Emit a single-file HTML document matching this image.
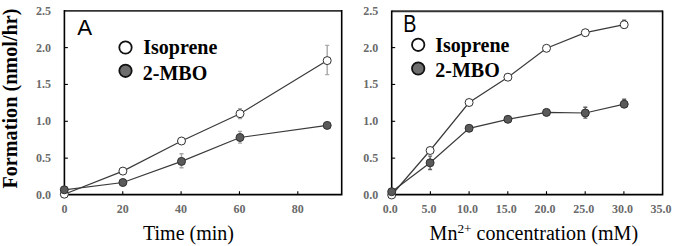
<!DOCTYPE html>
<html><head><meta charset="utf-8"><style>
html,body{margin:0;padding:0;background:#fff;}
body{width:685px;height:246px;overflow:hidden;}
svg{display:block;}
.tk{font-family:"Liberation Serif",serif;font-weight:bold;font-size:12px;fill:#6a6a6a;}
.let{font-family:"Liberation Sans",sans-serif;font-size:23px;fill:#000;}
.leg{font-family:"Liberation Serif",serif;font-weight:bold;font-size:20px;fill:#000;}
.xt{font-family:"Liberation Serif",serif;font-size:20px;fill:#000;}
.yt{font-family:"Liberation Serif",serif;font-weight:bold;font-size:20.2px;fill:#000;}
</style></head><body>
<svg width="685" height="246" viewBox="0 0 685 246">
<path d="M64.40,10.90H341.70" stroke="#333" stroke-width="1.9"/>
<path d="M64.40,10.00V195.40M63.60,194.60H342.50M341.70,10.00V194.60" stroke="#000" stroke-width="1.6" fill="none"/>
<text x="51.00" y="199.00" class="tk" text-anchor="end">0.0</text>
<line x1="64.40" y1="158.15" x2="67.90" y2="158.15" stroke="#000" stroke-width="1.1"/>
<text x="51.00" y="162.15" class="tk" text-anchor="end">0.5</text>
<line x1="64.40" y1="121.30" x2="67.90" y2="121.30" stroke="#000" stroke-width="1.1"/>
<text x="51.00" y="125.30" class="tk" text-anchor="end">1.0</text>
<line x1="64.40" y1="84.45" x2="67.90" y2="84.45" stroke="#000" stroke-width="1.1"/>
<text x="51.00" y="88.45" class="tk" text-anchor="end">1.5</text>
<line x1="64.40" y1="47.60" x2="67.90" y2="47.60" stroke="#000" stroke-width="1.1"/>
<text x="51.00" y="51.60" class="tk" text-anchor="end">2.0</text>
<text x="51.00" y="14.75" class="tk" text-anchor="end">2.5</text>
<text x="64.40" y="213.4" class="tk" text-anchor="middle">0</text>
<line x1="122.75" y1="194.60" x2="122.75" y2="191.20" stroke="#000" stroke-width="1.1"/>
<text x="122.75" y="213.4" class="tk" text-anchor="middle">20</text>
<line x1="181.10" y1="194.60" x2="181.10" y2="191.20" stroke="#000" stroke-width="1.1"/>
<text x="181.10" y="213.4" class="tk" text-anchor="middle">40</text>
<line x1="239.45" y1="194.60" x2="239.45" y2="191.20" stroke="#000" stroke-width="1.1"/>
<text x="239.45" y="213.4" class="tk" text-anchor="middle">60</text>
<line x1="297.80" y1="194.60" x2="297.80" y2="191.20" stroke="#000" stroke-width="1.1"/>
<text x="297.80" y="213.4" class="tk" text-anchor="middle">80</text>
<path d="M240.00,108.80V118.60M238.00,108.80H242.00M238.00,118.60H242.00" stroke="#a8a8a8" stroke-width="1.4" fill="none"/>
<path d="M327.20,45.40V74.60M325.20,45.40H329.20M325.20,74.60H329.20" stroke="#a8a8a8" stroke-width="1.4" fill="none"/>
<path d="M181.50,153.80V167.80M179.50,153.80H183.50M179.50,167.80H183.50" stroke="#a8a8a8" stroke-width="1.4" fill="none"/>
<path d="M240.00,131.40V143.10M238.00,131.40H242.00M238.00,143.10H242.00" stroke="#a8a8a8" stroke-width="1.4" fill="none"/>
<polyline points="64.30,194.20 122.90,171.10 181.50,141.00 240.00,113.70 327.20,60.60" fill="none" stroke="#3a3a3a" stroke-width="1.2"/>
<polyline points="64.30,189.80 122.90,182.50 181.50,161.40 240.00,137.50 327.20,125.40" fill="none" stroke="#3a3a3a" stroke-width="1.2"/>
<circle cx="64.30" cy="194.20" r="4.0" fill="#fff" stroke="#303030" stroke-width="1"/>
<circle cx="122.90" cy="171.10" r="4.0" fill="#fff" stroke="#303030" stroke-width="1"/>
<circle cx="181.50" cy="141.00" r="4.0" fill="#fff" stroke="#303030" stroke-width="1"/>
<circle cx="240.00" cy="113.70" r="4.0" fill="#fff" stroke="#303030" stroke-width="1"/>
<circle cx="327.20" cy="60.60" r="4.0" fill="#fff" stroke="#303030" stroke-width="1"/>
<circle cx="64.30" cy="189.80" r="4.0" fill="#5a5a5a" stroke="#303030" stroke-width="1"/>
<circle cx="122.90" cy="182.50" r="4.0" fill="#5a5a5a" stroke="#303030" stroke-width="1"/>
<circle cx="181.50" cy="161.40" r="4.0" fill="#5a5a5a" stroke="#303030" stroke-width="1"/>
<circle cx="240.00" cy="137.50" r="4.0" fill="#5a5a5a" stroke="#303030" stroke-width="1"/>
<circle cx="327.20" cy="125.40" r="4.0" fill="#5a5a5a" stroke="#303030" stroke-width="1"/>
<path d="M391.70,11.30H662.60" stroke="#333" stroke-width="1.9"/>
<path d="M391.70,10.40V195.40M390.90,194.60H663.40M662.60,10.40V194.60" stroke="#000" stroke-width="1.6" fill="none"/>
<text x="378.30" y="199.00" class="tk" text-anchor="end">0.0</text>
<line x1="391.70" y1="158.15" x2="395.20" y2="158.15" stroke="#000" stroke-width="1.1"/>
<text x="378.30" y="162.15" class="tk" text-anchor="end">0.5</text>
<line x1="391.70" y1="121.30" x2="395.20" y2="121.30" stroke="#000" stroke-width="1.1"/>
<text x="378.30" y="125.30" class="tk" text-anchor="end">1.0</text>
<line x1="391.70" y1="84.45" x2="395.20" y2="84.45" stroke="#000" stroke-width="1.1"/>
<text x="378.30" y="88.45" class="tk" text-anchor="end">1.5</text>
<line x1="391.70" y1="47.60" x2="395.20" y2="47.60" stroke="#000" stroke-width="1.1"/>
<text x="378.30" y="51.60" class="tk" text-anchor="end">2.0</text>
<text x="378.30" y="14.75" class="tk" text-anchor="end">2.5</text>
<text x="390.20" y="213.4" class="tk" text-anchor="middle">0.0</text>
<line x1="430.40" y1="194.60" x2="430.40" y2="191.20" stroke="#000" stroke-width="1.1"/>
<text x="428.90" y="213.4" class="tk" text-anchor="middle">5.0</text>
<line x1="469.10" y1="194.60" x2="469.10" y2="191.20" stroke="#000" stroke-width="1.1"/>
<text x="467.60" y="213.4" class="tk" text-anchor="middle">10.0</text>
<line x1="507.80" y1="194.60" x2="507.80" y2="191.20" stroke="#000" stroke-width="1.1"/>
<text x="506.30" y="213.4" class="tk" text-anchor="middle">15.0</text>
<line x1="546.50" y1="194.60" x2="546.50" y2="191.20" stroke="#000" stroke-width="1.1"/>
<text x="545.00" y="213.4" class="tk" text-anchor="middle">20.0</text>
<line x1="585.20" y1="194.60" x2="585.20" y2="191.20" stroke="#000" stroke-width="1.1"/>
<text x="583.70" y="213.4" class="tk" text-anchor="middle">25.0</text>
<line x1="623.90" y1="194.60" x2="623.90" y2="191.20" stroke="#000" stroke-width="1.1"/>
<text x="622.40" y="213.4" class="tk" text-anchor="middle">30.0</text>
<text x="661.10" y="213.4" class="tk" text-anchor="middle">35.0</text>
<path d="M624.20,20.20V27.70M622.20,20.20H626.20M622.20,27.70H626.20" stroke="#606060" stroke-width="1.4" fill="none"/>
<path d="M430.10,156.10V169.50M428.10,156.10H432.10M428.10,169.50H432.10" stroke="#606060" stroke-width="1.4" fill="none"/>
<path d="M585.30,107.30V118.10M583.30,107.30H587.30M583.30,118.10H587.30" stroke="#606060" stroke-width="1.4" fill="none"/>
<path d="M624.20,99.20V107.20M622.20,99.20H626.20M622.20,107.20H626.20" stroke="#606060" stroke-width="1.4" fill="none"/>
<polyline points="391.70,195.00 430.10,150.50 469.10,102.50 507.90,77.20 546.50,48.30 585.30,32.70 624.20,24.70" fill="none" stroke="#3a3a3a" stroke-width="1.2"/>
<polyline points="391.70,191.70 430.10,162.80 469.10,128.30 507.90,119.30 546.50,112.40 585.30,113.00 624.20,104.20" fill="none" stroke="#3a3a3a" stroke-width="1.2"/>
<circle cx="391.70" cy="195.00" r="4.0" fill="#fff" stroke="#303030" stroke-width="1"/>
<circle cx="430.10" cy="150.50" r="4.0" fill="#fff" stroke="#303030" stroke-width="1"/>
<circle cx="469.10" cy="102.50" r="4.0" fill="#fff" stroke="#303030" stroke-width="1"/>
<circle cx="507.90" cy="77.20" r="4.0" fill="#fff" stroke="#303030" stroke-width="1"/>
<circle cx="546.50" cy="48.30" r="4.0" fill="#fff" stroke="#303030" stroke-width="1"/>
<circle cx="585.30" cy="32.70" r="4.0" fill="#fff" stroke="#303030" stroke-width="1"/>
<circle cx="624.20" cy="24.70" r="4.0" fill="#fff" stroke="#303030" stroke-width="1"/>
<circle cx="391.70" cy="191.70" r="4.0" fill="#5a5a5a" stroke="#303030" stroke-width="1"/>
<circle cx="430.10" cy="162.80" r="4.0" fill="#5a5a5a" stroke="#303030" stroke-width="1"/>
<circle cx="469.10" cy="128.30" r="4.0" fill="#5a5a5a" stroke="#303030" stroke-width="1"/>
<circle cx="507.90" cy="119.30" r="4.0" fill="#5a5a5a" stroke="#303030" stroke-width="1"/>
<circle cx="546.50" cy="112.40" r="4.0" fill="#5a5a5a" stroke="#303030" stroke-width="1"/>
<circle cx="585.30" cy="113.00" r="4.0" fill="#5a5a5a" stroke="#303030" stroke-width="1"/>
<circle cx="624.20" cy="104.20" r="4.0" fill="#5a5a5a" stroke="#303030" stroke-width="1"/>
<text transform="translate(77.3,35.1) scale(0.97,1)" class="let">A</text>
<text transform="translate(403.2,31.7) scale(0.86,1)" class="let">B</text>
<circle cx="125.50" cy="47.50" r="6.2" fill="#fff" stroke="#111" stroke-width="1.8"/>
<circle cx="125.50" cy="70.80" r="6.2" fill="#6e6e6e" stroke="#111" stroke-width="1.8"/>
<text x="143.20" y="54.00" class="leg">Isoprene</text>
<text x="142.80" y="79.50" class="leg">2-MBO</text>
<circle cx="418.20" cy="44.80" r="6.2" fill="#fff" stroke="#111" stroke-width="1.8"/>
<circle cx="418.20" cy="68.50" r="6.2" fill="#6e6e6e" stroke="#111" stroke-width="1.8"/>
<text x="435.30" y="51.70" class="leg">Isoprene</text>
<text x="435.30" y="76.50" class="leg">2-MBO</text>
<text x="188.5" y="239.6" class="xt" text-anchor="middle">Time (min)</text>
<text x="429.6" y="239.6" class="xt">Mn<tspan dy="-7" font-size="13.3">2+</tspan><tspan dy="7" letter-spacing="0.06"> concentration (mM)</tspan></text>
<text transform="translate(16.5,98.6) rotate(-90)" class="yt" text-anchor="middle">Formation (nmol/hr)</text>
</svg>
</body></html>
